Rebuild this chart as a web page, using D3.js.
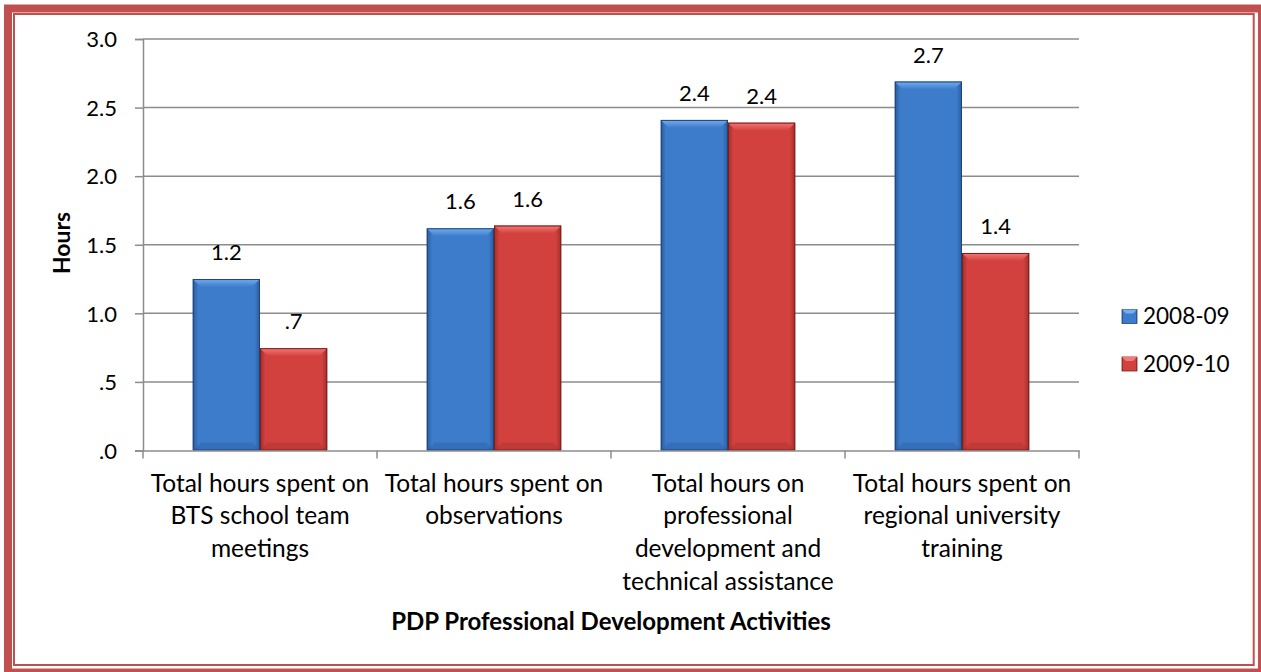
<!DOCTYPE html>
<html>
<head>
<meta charset="utf-8">
<script src="https://cdn.jsdelivr.net/npm/d3@7"></script>
<style>
  html, body { margin: 0; padding: 0; background: #fff; }
  svg { display: block; }
  text { font-family: Lato, "Open Sans", "Noto Sans", sans-serif; fill: #000; }
</style>
</head>
<body>
<svg id="chart" width="1261" height="672"></svg>
<script>
// ---- data ----
const categories = [
  "Total hours spent on BTS school team meetings",
  "Total hours spent on observations",
  "Total hours on professional development and technical assistance",
  "Total hours spent on regional university training"
];
const categoryLines = [
  ["Total hours spent on", "BTS school team", "meetings"],
  ["Total hours spent on", "observations"],
  ["Total hours on", "professional", "development and", "technical assistance"],
  ["Total hours spent on", "regional university", "training"]
];
const seriesNames = ["2008-09", "2009-10"];
const values2008 = [1.25, 1.62, 2.41, 2.69];
const values2009 = [0.746, 1.64, 2.39, 1.44];
const valueLabels2008 = ["1.2", "1.6", "2.4", "2.7"];
const valueLabels2009 = [".7", "1.6", "2.4", "1.4"];
const yTicks = [0, 0.5, 1.0, 1.5, 2.0, 2.5, 3.0];
const yTickLabels = [".0", ".5", "1.0", "1.5", "2.0", "2.5", "3.0"];
const yTitle = "Hours";
const xTitle = "PDP Professional Development Activities";

const seriesValues = [values2008, values2009];
const seriesLabels = [valueLabels2008, valueLabels2009];
const palette = [
  { main: "#3d7ccb", light: "#75aef0", dark: "#2a5a98", edge: "#1f4577" },
  { main: "#d3413e", light: "#f27a77", dark: "#9f2d2b", edge: "#7a1f1d" }
];

const svg = d3.select("#chart");
const plot = { left: 143, right: 1079, top: 39, bottom: 450.5 };

// frame
svg.append("rect").attr("x", 8).attr("y", 8.5).attr("width", 1254).attr("height", 664)
  .attr("fill", "none").attr("stroke", "#c0504d").attr("stroke-width", 8);
svg.append("rect").attr("x", 14).attr("y", 14).attr("width", 1239.7).attr("height", 651)
  .attr("fill", "none").attr("stroke", "#c0504d").attr("stroke-width", 2);

const y = d3.scaleLinear().domain([0, 3]).range([plot.bottom, plot.top]);
const x0 = d3.scaleBand().domain(categories).range([plot.left, plot.right]).paddingInner(0).paddingOuter(0);
const x1 = d3.scaleBand().domain(seriesNames).range([0, x0.bandwidth()]).paddingInner(0).paddingOuter(0.74);

// gridlines
svg.append("g").selectAll("line").data(yTicks.filter(d => d > 0)).join("line")
  .attr("x1", plot.left).attr("x2", plot.right)
  .attr("y1", d => y(d)).attr("y2", d => y(d))
  .attr("stroke", "#8c8c8c").attr("stroke-width", 1.5);

// y axis
const yAxis = d3.axisLeft(y).tickValues(yTicks).tickSize(8).tickPadding(18)
  .tickFormat((d, i) => yTickLabels[i]);
const gy = svg.append("g").attr("transform", `translate(${plot.left},0)`).call(yAxis);
gy.select(".domain").attr("stroke", "#8c8c8c").attr("stroke-width", 1.5);
gy.selectAll(".tick line").attr("stroke", "#8c8c8c").attr("stroke-width", 1.5);
gy.selectAll(".tick text").attr("font-size", 22).attr("font-family", "Lato, sans-serif").attr("fill", "#000").attr("dy", "0.35em");

// defs for bar gradients
const defs = svg.append("defs");
palette.forEach((p, i) => {
  const g = defs.append("linearGradient").attr("id", "side" + i).attr("x1", 0).attr("x2", 1).attr("y1", 0).attr("y2", 0);
  g.append("stop").attr("offset", "0%").attr("stop-color", p.dark);
  g.append("stop").attr("offset", "8%").attr("stop-color", p.main);
  g.append("stop").attr("offset", "92%").attr("stop-color", p.main);
  g.append("stop").attr("offset", "100%").attr("stop-color", p.dark);
  const t = defs.append("linearGradient").attr("id", "top" + i).attr("x1", 0).attr("x2", 0).attr("y1", 0).attr("y2", 1);
  t.append("stop").attr("offset", "0%").attr("stop-color", p.light);
  t.append("stop").attr("offset", "100%").attr("stop-color", p.main);
});

// bars
const bevel = 8;
categories.forEach((c, ci) => {
  seriesNames.forEach((s, si) => {
    const v = seriesValues[si][ci];
    const bx = x0(c) + x1(s);
    const bw = x1.bandwidth();
    const by = y(v);
    const bh = y(0) - y(v);
    const g = svg.append("g");
    g.append("rect").attr("x", bx).attr("y", by).attr("width", bw).attr("height", bh)
      .attr("fill", `url(#side${si})`);
    const b = Math.min(bevel, bh / 2);
    g.append("polygon")
      .attr("points", [[bx, by], [bx + bw, by], [bx + bw - b, by + b], [bx + b, by + b]].map(p => p.join(",")).join(" "))
      .attr("fill", `url(#top${si})`);
    g.append("polygon")
      .attr("points", [[bx, by + bh], [bx + bw, by + bh], [bx + bw - b, by + bh - b], [bx + b, by + bh - b]].map(p => p.join(",")).join(" "))
      .attr("fill", palette[si].dark).attr("opacity", 0.35);
    g.append("rect").attr("x", bx + 0.5).attr("y", by + 0.5).attr("width", bw - 1).attr("height", bh - 1)
      .attr("fill", "none").attr("stroke", palette[si].edge).attr("stroke-width", 1);
    svg.append("text").attr("x", bx + bw / 2).attr("y", by - 26.5).attr("dy", "0.35em")
      .attr("text-anchor", "middle").attr("font-size", 22).text(seriesLabels[si][ci]);
  });
});

// x axis
const xAxis = d3.axisBottom(x0).tickSize(0).tickFormat("");
const gx = svg.append("g").attr("transform", `translate(0,${plot.bottom})`).call(xAxis);
gx.select(".domain").attr("stroke", "#8c8c8c").attr("stroke-width", 1.5);
// category boundary ticks
const boundaries = categories.map(c => x0(c)).concat([plot.right]);
svg.append("g").selectAll("line").data(boundaries).join("line")
  .attr("x1", d => d).attr("x2", d => d).attr("y1", plot.bottom).attr("y2", plot.bottom + 8)
  .attr("stroke", "#8c8c8c").attr("stroke-width", 1.5);

// category labels
categories.forEach((c, ci) => {
  const t = svg.append("text").attr("text-anchor", "middle").attr("font-size", 24.5);
  categoryLines[ci].forEach((line, li) => {
    t.append("tspan").attr("x", x0(c) + x0.bandwidth() / 2).attr("y", 483 + li * 32.8).attr("dy", "0.35em").text(line);
  });
});

// axis titles
svg.append("text").attr("x", (plot.left + plot.right) / 2).attr("y", 622).attr("dy", "0.35em")
  .attr("text-anchor", "middle").attr("font-size", 24).attr("font-weight", "bold").text(xTitle);
svg.append("text").attr("transform", "translate(62,243) rotate(-90)").attr("dy", "0.35em")
  .attr("text-anchor", "middle").attr("font-size", 23).attr("font-weight", "bold").text(yTitle);

// legend
const legend = svg.append("g");
seriesNames.forEach((s, si) => {
  const ly = 316.5 + si * 47.5;
  const lx = 1122;
  legend.append("rect").attr("x", lx).attr("y", ly - 7).attr("width", 15).attr("height", 14)
    .attr("fill", `url(#side${si})`).attr("stroke", palette[si].edge).attr("stroke-width", 0.8);
  legend.append("polygon")
    .attr("points", [[lx, ly - 7], [lx + 15, ly - 7], [lx + 11, ly - 3], [lx + 4, ly - 3]].map(p => p.join(",")).join(" "))
    .attr("fill", palette[si].light);
  legend.append("text").attr("x", lx + 21).attr("y", ly).attr("dy", "0.35em").attr("font-size", 22.5).text(s);
});
</script>
</body>
</html>
